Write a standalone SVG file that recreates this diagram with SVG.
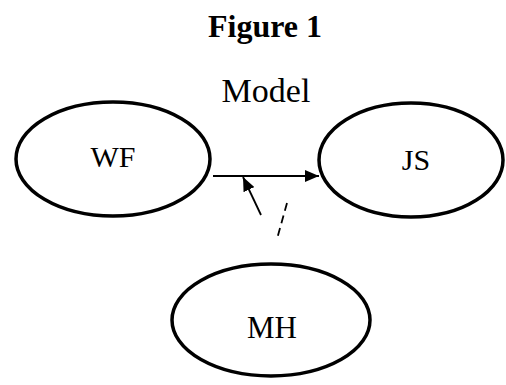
<svg xmlns="http://www.w3.org/2000/svg" width="506" height="385" viewBox="0 0 506 385">
<style>
.node{fill:#fff;stroke:#000;stroke-width:3.5}
.lbl{font-family:"Liberation Serif","Times New Roman",serif;font-size:30px;fill:#000;text-anchor:middle}
.model{font-size:34px}
.ttl{font-family:"Liberation Serif","Times New Roman",serif;font-size:32px;font-weight:bold;fill:#000;text-anchor:middle}
.conn{stroke:#000;stroke-width:1.8;fill:none}
</style>
<defs>
<marker id="ah" markerWidth="14" markerHeight="12" refX="14" refY="6" orient="auto" markerUnits="userSpaceOnUse">
<path d="M0,0 L14,6 L0,12 Z" fill="#000"/>
</marker>
</defs>
<rect width="506" height="385" fill="#fff"/>
<text class="ttl" x="265" y="37">Figure 1</text>
<text class="lbl model" x="266" y="102">Model</text>
<g id="WF">
<ellipse class="node" cx="113" cy="159" rx="97" ry="57"/>
<text class="lbl" x="113" y="167">WF</text>
</g>
<g id="JS">
<ellipse class="node" cx="411" cy="160" rx="92" ry="57"/>
<text class="lbl" x="416" y="170">JS</text>
</g>
<g id="MH">
<ellipse class="node" cx="271" cy="320" rx="99" ry="56"/>
<text class="lbl" x="272" y="338" style="font-size:31px">MH</text>
</g>
<g id="connectors">
<line class="conn" x1="213" y1="176" x2="319" y2="176" marker-end="url(#ah)"/>
<line class="conn" x1="261" y1="215" x2="243" y2="177" marker-end="url(#ah)"/>
<line class="conn" x1="287" y1="203" x2="277" y2="239" stroke-dasharray="8,5"/>
</g>
</svg>
